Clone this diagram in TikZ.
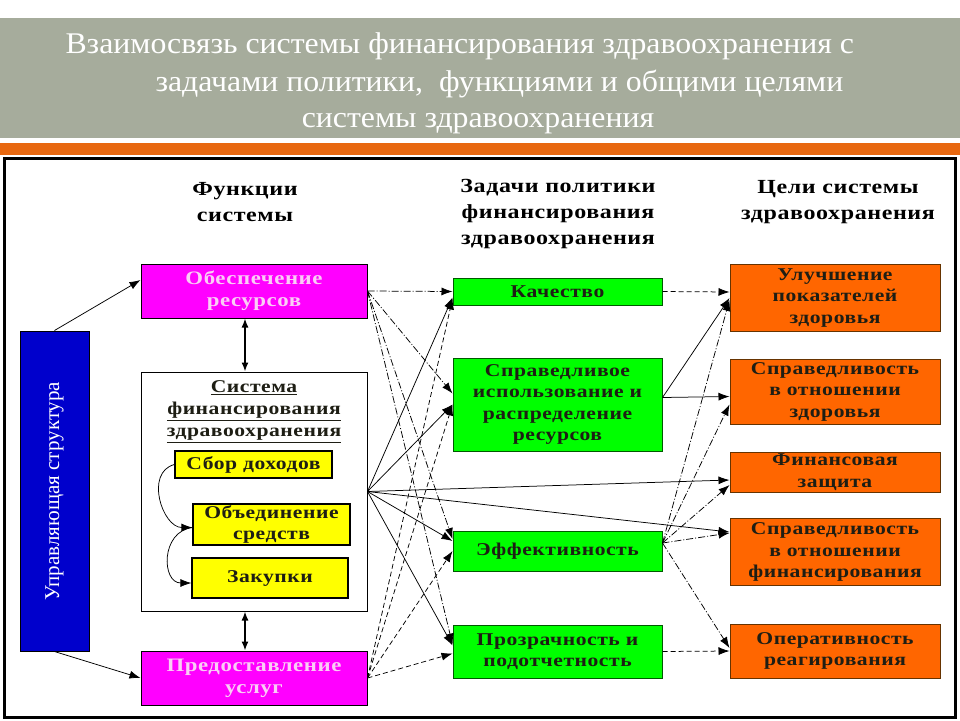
\documentclass[tikz,border=0pt]{standalone}
\usepackage{fontspec}
\setmainfont{Liberation Serif}
\newfontfamily\titlefont[FakeStretch=1.06]{Liberation Serif}
\newfontfamily\boxfont[FakeStretch=1.2,LetterSpace=3]{Liberation Serif}
\usetikzlibrary{arrows.meta,positioning}

\definecolor{headgray}{RGB}{166,172,156}
\definecolor{bandorange}{RGB}{232,104,16}
\definecolor{boxmag}{RGB}{255,0,255}
\definecolor{boxgreen}{RGB}{0,255,0}
\definecolor{boxorange}{RGB}{255,102,0}
\definecolor{boxyellow}{RGB}{255,255,0}
\definecolor{boxblue}{RGB}{0,0,204}
\definecolor{magtext}{RGB}{250,205,245}
\definecolor{darktext}{RGB}{30,30,20}

\tikzset{
  box/.style={draw=black, line width=1pt, align=center, inner sep=1pt,
    font=\boxfont\bfseries\fontsize{18}{21.5}\selectfont, text=darktext},
  func/.style={box, fill=boxmag, text=magtext, minimum width=226pt, minimum height=54pt,
    font=\boxfont\bfseries\fontsize{19}{22}\selectfont},
  task/.style={box, fill=boxgreen, draw=green!35!black, minimum width=209pt},
  goal/.style={box, fill=boxorange, draw=black!60!orange, minimum width=210pt},
  stage/.style={box, fill=boxyellow, line width=1.2pt, minimum width=157pt},
  colhead/.style={align=center, font=\boxfont\bfseries\fontsize{20}{26}\selectfont},
  arr/.style={-{Latex[length=11pt,width=8pt]}, line width=0.75pt},
  solidlink/.style={arr},
  dashlink/.style={arr, dash pattern=on 5pt off 3pt},
  dotlink/.style={arr, dash pattern=on 7pt off 2pt on 1pt off 2pt},
  dbl/.style={{Latex[length=9pt,width=7pt]}-{Latex[length=9pt,width=7pt]}, line width=1.4pt},
}

\begin{document}
\begin{tikzpicture}[x=1pt,y=-1pt]
  \useasboundingbox (0,0) rectangle (960,720);
  % header
  \fill[headgray] (0,18) rectangle (960,138);
  \fill[bandorange] (0,143) rectangle (960,155);
  \draw[line width=3pt] (4,158) rectangle (955,717);
  \node[anchor=west, text=white, font=\titlefont\fontsize{30}{36}\selectfont] (title1) at (62,46) {Взаимосвязь системы финансирования здравоохранения с};
  \node[anchor=west, text=white, font=\titlefont\fontsize{30}{36}\selectfont] (title2) at (152,84) {задачами политики,\ \ функциями и общими целями};
  \node[text=white, font=\titlefont\fontsize{30}{36}\selectfont] (title3) at (478,124) {системы здравоохранения};

  % column heads
  \node[colhead] (headfunc) at (245,202) {Функции\\системы};
  \node[colhead] (headtask) at (558,214) {Задачи политики\\финансирования\\здравоохранения};
  \node[colhead] (headgoal) at (838,202) {Цели системы\\здравоохранения};

  % functions
  \node[box, fill=boxblue, text=white, rotate=90, minimum width=320pt, minimum height=69pt,
    font=\fontsize{21}{24}\selectfont] (upr) at (54.5,491) {Управляющая структура};
  \node[func] (obesp) at (254,291) {Обеспечение\\ресурсов};
  \node[box, fill=white, minimum width=226pt, minimum height=239pt] (sistema) at (254,491.5) {};
  \node[font=\boxfont\bfseries\fontsize{18}{22}\selectfont, text=darktext, align=center,
    below=6pt of sistema.north] (systitle)
    {\underline{Система}\\\underline{финансирования}\\\underline{здравоохранения}};
  \node[stage, minimum height=27pt] (sbor) at (253.5,464.5) {Сбор доходов};
  \node[stage, minimum height=41pt] (obed) at (271.5,524.5) {Объединение\\средств};
  \node[stage, minimum width=156pt, minimum height=40pt] (zakup) at (270,578) {Закупки};
  \node[func] (predost) at (254,678) {Предоставление\\услуг};

  % tasks
  \node[task, minimum height=27pt] (kach) at (557.5,291.5) {Качество};
  \node[task, minimum height=93pt] (spravisp) at (557.5,404.5) {Справедливое\\использование и\\распределение\\ресурсов};
  \node[task, minimum height=40pt] (effekt) at (557.5,551) {Эффективность};
  \node[task, minimum height=53pt] (prozr) at (557.5,651.5) {Прозрачность и\\подотчетность};

  % goals
  \node[goal, minimum height=67pt] (uluch) at (835,298) {Улучшение\\показателей\\здоровья};
  \node[goal, minimum height=65pt] (spravzd) at (835,391.5) {Справедливость\\в отношении\\здоровья};
  \node[goal, minimum height=40pt] (finzash) at (835,472) {Финансовая\\защита};
  \node[goal, minimum height=67pt] (spravfin) at (835,552) {Справедливость\\в отношении\\финансирования};
  \node[goal, minimum height=54pt] (operat) at (835,651) {Оперативность\\реагирования};

  % left side
  \path[solidlink]
    (upr.east) edge ([yshift=11pt]obesp.west)
    (upr.west) edge (predost.west);
  \path[dbl]
    ([xshift=-9pt]obesp.south) edge ([xshift=-9pt]sistema.north)
    ([xshift=-9pt]sistema.south) edge ([xshift=-9pt]predost.north);
  \draw[solidlink] (sbor.west) .. controls +(-30,8) and +(-30,0) .. ([yshift=-3pt]obed.west);
  \draw[solidlink] ([yshift=-3pt]obed.west) .. controls +(-32,4) and +(-30,0) .. ([yshift=-5pt]zakup.west);

  % functions to tasks
  \path[dotlink]
    (obesp.east) edge (kach.west)
    (obesp.east) edge ([yshift=11pt]spravisp.west)
    (obesp.east) edge ([yshift=12pt]effekt.west)
    (obesp.east) edge ([yshift=7pt]prozr.west);
  \path[solidlink]
    (sistema.east) edge ([yshift=-6pt]kach.west)
    (sistema.east) edge (spravisp.west)
    (sistema.east) edge ([yshift=10pt]effekt.west)
    (sistema.east) edge ([yshift=6pt]prozr.west)
    (sistema.east) edge ([yshift=-8pt]finzash.west)
    (sistema.east) edge ([yshift=20pt]spravfin.west);
  \path[dashlink]
    (predost.east) edge ([yshift=-7pt]kach.west)
    (predost.east) edge (spravisp.west)
    (predost.east) edge (effekt.west)
    (predost.east) edge ([yshift=-2pt]prozr.west);

  % tasks to goals
  \path[dashlink]
    (kach.east) edge ([yshift=6pt]uluch.west)
    (prozr.east) edge (operat.west);
  \path[solidlink]
    ([yshift=7pt]spravisp.east) edge (uluch.west)
    ([yshift=7pt]spravisp.east) edge ([yshift=-5pt]spravzd.west);
  \path[dotlink]
    ([yshift=8pt]effekt.east) edge ([yshift=-2pt]uluch.west)
    ([yshift=8pt]effekt.east) edge ([yshift=-13pt]spravzd.west)
    ([yshift=8pt]effekt.east) edge ([yshift=-13pt]finzash.west)
    ([yshift=8pt]effekt.east) edge ([yshift=19pt]spravfin.west)
    ([yshift=8pt]effekt.east) edge ([yshift=3pt]operat.west);
\end{tikzpicture}
\end{document}
